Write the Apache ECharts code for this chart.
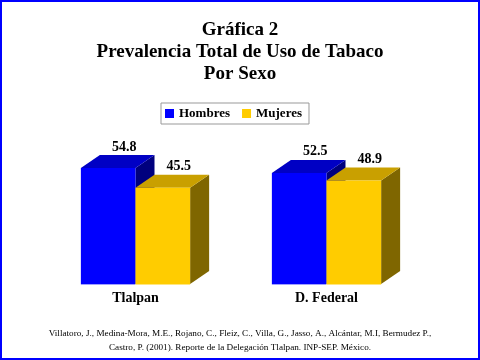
<!DOCTYPE html>
<html><head><meta charset="utf-8">
<script src="https://cdn.jsdelivr.net/npm/echarts@6/dist/echarts.min.js"></script>
<style>html,body{margin:0;padding:0;background:#fff}#c{width:480px;height:360px}</style>
</head><body><div id="c"></div>
<script>
const categories = ['Tlalpan', 'D. Federal'];
const hombres = [54.8, 52.5];
const mujeres = [45.5, 48.9];
const seriesNames = ['Hombres', 'Mujeres'];
const titleLines = ['Gráfica 2', 'Prevalencia Total de Uso de Tabaco', 'Por Sexo'];
const footerLines = [
  'Villatoro, J., Medina-Mora, M.E., Rojano, C., Fleiz, C., Villa, G., Jasso, A., Alcántar, M.I, Bermudez P.,',
  'Castro, P. (2001). Reporte de la Delegación Tlalpan. INP-SEP. México.'
];

const FONT = '"Liberation Serif", "Times New Roman", serif';
const palettes = [
  {front: '#0000ff', top: '#0000c4', side: '#00007e', base: '#a0a0ff'},
  {front: '#ffcc00', top: '#c9a000', side: '#7f6600', base: '#ffe680'}
];
const DX = 19, DY = 13;

function makeRender(idx) {
  return function (params, api) {
    const cat = api.value(0);
    const val = api.value(1);
    const base = api.coord([cat, 0]);
    const topPt = api.coord([cat, val]);
    const catW = api.size([1, 0])[0];
    const bw = catW * 0.286;
    const x0 = base[0] - bw + idx * bw;
    const x1 = x0 + bw;
    const yb = base[1];
    const yt = topPt[1];
    const p = palettes[idx];
    return {
      type: 'group',
      children: [
        {type: 'polygon', shape: {points: [[x1, yt], [x1 + DX, yt - DY], [x1 + DX, yb - DY], [x1, yb]]},
          style: {fill: p.side}},
        {type: 'polygon', shape: {points: [[x0, yt], [x1, yt], [x1 + DX, yt - DY], [x0 + DX, yt - DY]]},
          style: {fill: p.top}},
        {type: 'rect', shape: {x: x0, y: yt, width: bw, height: yb - yt}, style: {fill: p.front}},
        {type: 'line', shape: {x1: x0, y1: yb + 0.5, x2: x1, y2: yb + 0.5}, style: {stroke: p.base, lineWidth: 1}},
        {type: 'text', x: (x0 + x1) / 2 + 16, y: yt - DY - 8,
          style: {text: val.toFixed(1), fill: '#000', font: 'bold 14px ' + FONT,
            align: 'center', verticalAlign: 'middle'}}
      ]
    };
  };
}

const chart = echarts.init(document.getElementById('c'), null, {renderer: 'canvas'});
chart.setOption({
  backgroundColor: '#ffffff',
  animation: false,
  legend: {
    data: seriesNames,
    top: 103, left: 161,
    itemWidth: 9, itemHeight: 9, itemGap: 12,
    padding: [4, 7, 4, 4],
    borderColor: '#999999', borderWidth: 1, borderRadius: 0,
    icon: 'rect',
    textStyle: {fontFamily: FONT, fontWeight: 'bold', fontSize: 13, color: '#000'}
  },
  grid: {left: 40, right: 58, top: 157, bottom: 76},
  xAxis: {
    type: 'category', data: categories,
    axisLine: {show: false}, axisTick: {show: false}, splitLine: {show: false},
    axisLabel: {fontFamily: FONT, fontWeight: 'bold', fontSize: 14, color: '#000', margin: 7}
  },
  yAxis: {type: 'value', min: 0, max: 60, show: false},
  series: [
    {name: seriesNames[0], type: 'custom', itemStyle: {color: palettes[0].front},
      renderItem: makeRender(0), data: hombres.map((v, i) => [i, v])},
    {name: seriesNames[1], type: 'custom', itemStyle: {color: palettes[1].front},
      renderItem: makeRender(1), data: mujeres.map((v, i) => [i, v])}
  ],
  graphic: [
    {type: 'rect', shape: {x: 1, y: 1, width: 478, height: 358}, style: {fill: 'none', stroke: '#0000ff', lineWidth: 2}, z: 100}
  ].concat(titleLines.map((t, i) => ({
    type: 'text', x: 240, y: 30 + i * 22,
    style: {text: t, font: 'bold 19px ' + FONT, fill: '#000', align: 'center', verticalAlign: 'middle'}
  }))).concat(footerLines.map((t, i) => ({
    type: 'text', x: 240, y: 334 + i * 14,
    style: {text: t, font: '9.2px ' + FONT, fill: '#000', align: 'center', verticalAlign: 'middle'}
  })))
});
</script></body></html>
